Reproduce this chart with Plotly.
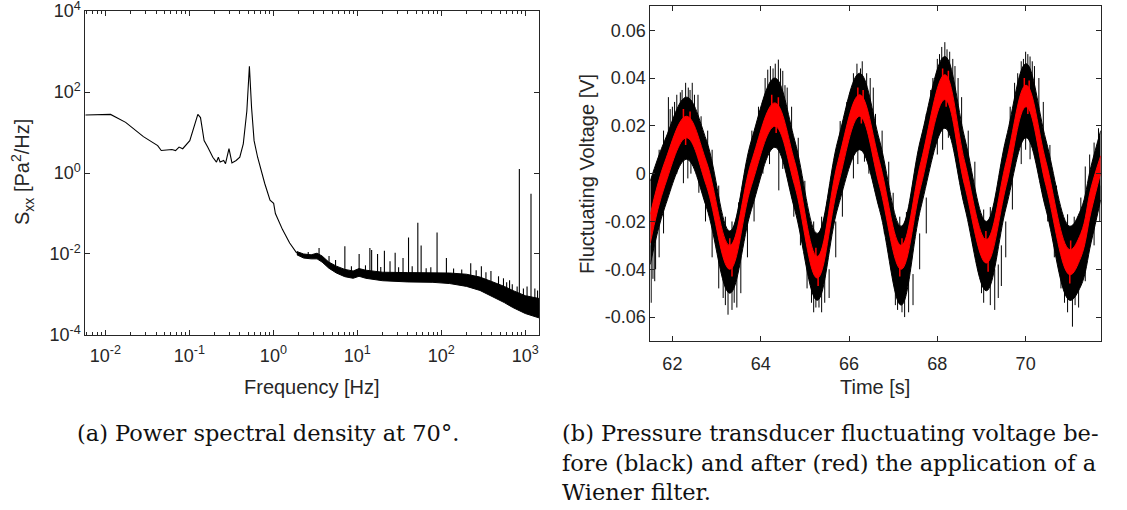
import plotly.graph_objects as go

# ---------------- Data: power spectral density (left) ----------------
psd_line_f = [0.00575, 0.0115, 0.0174, 0.0283, 0.0419, 0.0462, 0.0619, 0.0684, 0.0753, 0.0832,
              0.101, 0.117, 0.126, 0.1355, 0.1496, 0.165, 0.19, 0.21, 0.221, 0.232, 0.256, 0.269,
              0.296, 0.321, 0.36, 0.398, 0.438, 0.483, 0.518, 0.55, 0.589, 0.649, 0.789, 0.912,
              1.007, 1.057, 1.285, 1.563, 1.9]
psd_line_s = [27, 28, 17.8, 7.9, 4.76, 3.59, 3.8, 3.59, 4.37, 3.98,
              6.3, 17.8, 28, 23.4, 6.3, 4.37, 2.45, 1.86, 2.45, 1.86, 2.04, 1.70,
              4.0, 1.78, 2.04, 2.45, 5.25, 34, 434, 40.7, 6.3, 2.45, 0.55, 0.214,
              0.178, 0.10, 0.04, 0.0186, 0.0105]
band_logf = [0.28, 0.36, 0.45, 0.52, 0.58, 0.66, 0.75, 0.85, 0.95, 1.02, 1.1, 1.3, 1.6, 1.9,
             2.1, 2.3, 2.46, 2.6, 2.75, 2.85, 3.0, 3.167]
band_up = [-1.94, -2.0, -2.02, -1.98, -2.05, -2.2, -2.3, -2.38, -2.42, -2.36, -2.4, -2.45, -2.46,
           -2.46, -2.47, -2.5, -2.57, -2.68, -2.8, -2.9, -3.03, -3.1]
band_lo = [-2.02, -2.1, -2.12, -2.12, -2.2, -2.35, -2.47, -2.56, -2.6, -2.55, -2.6, -2.66, -2.69,
           -2.7, -2.73, -2.8, -2.9, -3.04, -3.2, -3.32, -3.47, -3.58]
spk_f = [3.5, 7.1, 10.5, 14.1, 14.8, 17.4, 21.0, 24.5, 28.2, 35.0, 40.7, 52.5, 57.5, 89.0, 115,
         224, 300, 480, 600, 700, 800, 850, 950, 1050, 1170, 1300, 1400,
         2.6, 4.6, 5.5, 8.5, 12.5, 19.0, 31.0, 45.0, 66.0, 75.0, 140, 175, 260, 340, 390, 550, 650]
spk_base = [-2.1, -2.5, -2.5, -2.55, -2.55, -2.6, -2.6, -2.6, -2.6, -2.6, -2.6, -2.6, -2.6, -2.6,
            -2.65, -2.7, -2.8, -3.0, -3.1, -3.2, -3.3, -3.3, -3.4, -3.4, -3.45, -3.5, -3.5,
            -2.1, -2.2, -2.3, -2.5, -2.55, -2.6, -2.6, -2.6, -2.6, -2.6, -2.65, -2.65, -2.7, -2.8, -2.85, -3.0, -3.1]
spk_tip = [-1.85, -1.81, -2.0, -1.85, -1.9, -2.0, -1.92, -2.18, -1.97, -2.1, -1.59, -1.23, -1.79,
           -1.47, -2.1, -2.23, -2.3, -2.55, -2.7, -2.75, -2.8, 0.10, -2.85, -2.8, -0.51, -2.85, -2.9,
           -1.95, -2.05, -2.15, -2.3, -2.28, -2.32, -2.33, -2.3, -2.35, -2.33, -2.36, -2.38, -2.4, -2.45, -2.42, -2.6, -2.65]

# ---------------- Data: fluctuating voltage (right) ----------------
t_key = [61.50, 61.83, 62.32, 62.77, 63.30, 63.79, 64.32, 64.77, 65.28, 65.75, 66.24, 66.69,
         67.18, 67.63, 68.17, 68.62, 69.11, 69.56, 70.01, 70.46, 71.00, 71.25, 71.48, 71.70]
red_hi = [-0.017, 0.005, 0.024, 0.005, -0.030, 0.005, 0.0296, 0.005, -0.0346, 0.005, 0.033, 0.005,
          -0.030, 0.005, 0.0414, 0.005, -0.0276, 0.005, 0.037, 0.005, -0.0318, -0.025, -0.006, 0.0075]
red_lo = [-0.029, -0.005, 0.015, -0.005, -0.040, -0.005, 0.0198, -0.005, -0.0437, -0.005, 0.024, -0.005,
          -0.040, -0.005, 0.031, -0.005, -0.0374, -0.005, 0.028, -0.005, -0.0423, -0.035, -0.016, 0.0003]
blk_hi = [-0.003, 0.014, 0.032, 0.014, -0.024, 0.014, 0.040, 0.014, -0.025, 0.014, 0.042, 0.014,
          -0.022, 0.015, 0.049, 0.015, -0.020, 0.015, 0.046, 0.014, -0.022, -0.015, 0.003, 0.018]
blk_lo = [-0.038, -0.014, 0.006, -0.014, -0.050, -0.015, 0.011, -0.015, -0.053, -0.014, 0.010, -0.015,
          -0.055, -0.014, 0.019, -0.014, -0.049, -0.014, 0.015, -0.015, -0.053, -0.047, -0.029, -0.011]
# raw-signal noise needles: time, base, tip
ndl_t = [61.91, 61.95, 62.05, 62.18, 62.30, 62.40, 62.45, 62.58, 63.00, 64.05, 64.16, 64.28, 64.40,
         64.50, 64.55, 65.00, 66.05, 66.18, 66.26, 66.40, 66.60, 67.90, 68.05, 68.17, 68.28, 68.40,
         68.55, 69.75, 69.90, 70.00, 70.10, 70.20, 71.35, 71.55, 71.65,
         61.52, 61.56, 61.62, 62.35, 62.42, 62.60, 63.15, 63.26, 63.40, 63.46, 64.41, 64.50, 65.15,
         65.25, 65.32, 65.45, 66.20, 66.35, 67.10, 67.26, 67.35, 68.25, 68.50, 69.00, 69.30, 69.45,
         70.00, 70.88, 71.06, 71.12,
         61.70, 61.80, 62.00, 62.10, 62.22, 62.36, 62.50, 62.65, 62.80, 62.90, 63.05, 63.20, 63.35,
         63.50, 63.65, 63.80, 63.95, 64.10, 64.22, 64.33, 64.45, 64.60, 64.70, 64.85, 65.20, 65.38,
         65.50, 65.65, 65.80, 65.95, 66.10, 66.30, 66.48, 66.55, 66.75, 66.90, 67.00, 67.15, 67.30,
         67.45, 67.60, 67.75, 67.85, 68.00, 68.10, 68.22, 68.35, 68.47, 68.70, 68.85, 69.05, 69.20,
         69.35, 69.50, 69.65, 69.82, 69.95, 70.05, 70.15, 70.30, 70.40, 70.55, 70.70, 70.95, 71.10,
         71.25, 71.45,
         61.60, 61.70, 61.80, 62.10, 62.25, 62.50, 62.75, 62.90, 63.05, 63.20, 63.35, 63.55, 63.70,
         63.85, 64.05, 64.20, 64.60, 64.75, 64.90, 65.05, 65.20, 65.38, 65.55, 65.70, 65.85, 66.10,
         66.45, 66.55, 66.80, 66.95, 67.05, 67.20, 67.45, 67.60, 67.75, 68.00, 68.12, 68.40, 68.65,
         68.80, 69.05, 69.20, 69.38, 69.55, 69.70, 69.90, 70.10, 70.25, 70.50, 70.65, 70.80, 70.95,
         71.20, 71.35, 71.55, 71.68]
ndl_base = [0.005, 0.005, 0.010, 0.015, 0.020, 0.020, 0.020, 0.015, -0.020, 0.005, 0.020, 0.025, 0.025,
            0.020, 0.015, -0.020, 0.015, 0.025, 0.025, 0.025, 0.010, 0.015, 0.030, 0.035, 0.030, 0.025,
            0.015, 0.020, 0.030, 0.030, 0.030, 0.025, -0.020, -0.005, 0.000,
            -0.030, -0.030, -0.025, 0.015, 0.015, 0.010, -0.035, -0.040, -0.040, -0.040, 0.020, 0.015,
            -0.040, -0.045, -0.045, -0.040, 0.025, 0.020, -0.040, -0.045, -0.040, 0.030, 0.020, -0.035,
            -0.040, -0.030, 0.025, -0.040, -0.045, -0.040,
            -0.010, 0.000, 0.015, 0.018, 0.020, 0.022, 0.020, 0.012, 0.000, -0.010, -0.020, -0.030, -0.032,
            -0.025, -0.015, 0.000, 0.010, 0.020, 0.028, 0.030, 0.028, 0.020, 0.010, -0.005, -0.035, -0.033,
            -0.025, -0.012, 0.005, 0.012, 0.025, 0.030, 0.025, 0.020, 0.000, -0.012, -0.025, -0.032, -0.030,
            -0.022, -0.005, 0.010, 0.015, 0.030, 0.036, 0.036, 0.032, 0.025, 0.000, -0.015, -0.028, -0.028,
            -0.020, -0.008, 0.010, 0.025, 0.030, 0.033, 0.030, 0.025, 0.015, -0.005, -0.020, -0.032, -0.032,
            -0.022, -0.010,
            -0.030, -0.020, -0.010, 0.012, 0.012, 0.015, -0.005, -0.020, -0.035, -0.042, -0.042, -0.035, -0.020,
            -0.005, 0.010, 0.018, 0.015, -0.005, -0.015, -0.035, -0.045, -0.045, -0.040, -0.020, -0.005, 0.012,
            0.015, 0.012, -0.010, -0.025, -0.042, -0.045, -0.042, -0.025, -0.010, 0.020, 0.025, 0.022, 0.000,
            -0.015, -0.040, -0.042, -0.038, -0.020, 0.000, 0.018, 0.020, 0.020, -0.005, -0.020, -0.035, -0.045,
            -0.042, -0.032, -0.015, -0.005]
ndl_tip = [0.032, 0.027, 0.030, 0.034, 0.038, 0.035, 0.038, 0.033, -0.008, 0.030, 0.0435, 0.044, 0.0477,
           0.043, 0.037, -0.003, 0.035, 0.046, 0.044, 0.042, 0.025, 0.040, 0.050, 0.055, 0.051, 0.045,
           0.032, 0.038, 0.047, 0.051, 0.049, 0.045, 0.003, 0.013, 0.019,
           -0.054, -0.044, -0.040, -0.002, 0.000, -0.008, -0.052, -0.059, -0.054, -0.056, -0.007, 0.002,
           -0.054, -0.056, -0.056, -0.054, 0.004, 0.005, -0.057, -0.060, -0.058, 0.015, 0.005, -0.050,
           -0.057, -0.047, 0.010, -0.054, -0.064, -0.055,
           0.010, 0.018, 0.028, 0.033, 0.035, 0.036, 0.033, 0.024, 0.018, 0.010, -0.005, -0.018, -0.020,
           -0.012, 0.000, 0.018, 0.028, 0.040, 0.045, 0.046, 0.044, 0.036, 0.028, 0.015, -0.020, -0.018,
           -0.012, 0.005, 0.022, 0.030, 0.042, 0.047, 0.040, 0.036, 0.018, 0.005, -0.008, -0.018, -0.016,
           -0.010, 0.010, 0.025, 0.035, 0.048, 0.053, 0.052, 0.048, 0.040, 0.018, 0.005, -0.015, -0.014,
           -0.008, 0.008, 0.028, 0.042, 0.048, 0.050, 0.047, 0.040, 0.030, 0.012, -0.005, -0.017, -0.018,
           -0.010, 0.008,
           -0.045, -0.035, -0.025, 0.000, -0.004, 0.003, -0.020, -0.035, -0.048, -0.055, -0.057, -0.050, -0.035,
           -0.020, 0.000, 0.004, 0.005, -0.018, -0.030, -0.048, -0.058, -0.058, -0.052, -0.035, -0.018, -0.002,
           0.000, -0.002, -0.025, -0.040, -0.055, -0.058, -0.055, -0.040, -0.025, 0.008, 0.010, 0.010, -0.015,
           -0.030, -0.054, -0.055, -0.052, -0.035, -0.015, 0.004, 0.006, 0.008, -0.020, -0.035, -0.048, -0.058,
           -0.056, -0.045, -0.030, -0.020]
# small jitter needles on the filtered (red) signal: time, base, tip
rnd_t = [62.25, 62.40, 64.25, 64.40, 66.20, 66.32, 68.12, 68.25, 69.97, 70.08,
         62.30, 64.35, 66.28, 68.20, 70.05,
         63.30, 65.25, 67.20, 69.10, 71.02,
         63.35, 65.30, 67.15, 69.15, 71.00]
rnd_base = [0.018, 0.018, 0.024, 0.024, 0.028, 0.028, 0.035, 0.035, 0.032, 0.032,
            0.020, 0.025, 0.028, 0.035, 0.032,
            -0.035, -0.040, -0.035, -0.032, -0.036,
            -0.035, -0.040, -0.035, -0.032, -0.036]
rnd_tip = [0.027, 0.026, 0.033, 0.032, 0.036, 0.035, 0.044, 0.043, 0.040, 0.039,
           0.012, 0.017, 0.021, 0.028, 0.025,
           -0.027, -0.031, -0.027, -0.024, -0.028,
           -0.043, -0.047, -0.043, -0.041, -0.046]

# tick labels
psd_xticks = [0.01, 0.1, 1, 10, 100, 1000]
psd_xlabels = ["10<sup>-2</sup>", "10<sup>-1</sup>", "10<sup>0</sup>", "10<sup>1</sup>",
               "10<sup>2</sup>", "10<sup>3</sup>"]
psd_yticks = [1e-4, 1e-2, 1, 1e2, 1e4]
psd_ylabels = ["10<sup>-4</sup>", "10<sup>-2</sup>", "10<sup>0</sup>", "10<sup>2</sup>", "10<sup>4</sup>"]
v_xticks = [62, 64, 66, 68, 70]
v_yticks = [-0.06, -0.04, -0.02, 0, 0.02, 0.04, 0.06]
v_ylabels = ["-0.06", "-0.04", "-0.02", "0", "0.02", "0.04", "0.06"]

# ---------------- Figure ----------------
W, H = 1127, 510
AX = "#262626"
FONT = "Liberation Sans, Arial, sans-serif"
fig = go.Figure()

fig.add_trace(go.Scatter(x=psd_line_f, y=psd_line_s, mode="lines",
                         line=dict(color="black", width=1.1), xaxis="x", yaxis="y"))
band_f = [10 ** v for v in band_logf]
fig.add_trace(go.Scatter(x=band_f, y=[10 ** v for v in band_lo], mode="lines",
                         line=dict(color="black", width=1), xaxis="x", yaxis="y"))
fig.add_trace(go.Scatter(x=band_f, y=[10 ** v for v in band_up], mode="lines", fill="tonexty",
                         fillcolor="black", line=dict(color="black", width=1), xaxis="x", yaxis="y"))
sx, sy = [], []
for f, b, tp in zip(spk_f, spk_base, spk_tip):
    sx += [f, f, None]
    sy += [10 ** b, 10 ** tp, None]
fig.add_trace(go.Scatter(x=sx, y=sy, mode="lines", line=dict(color="black", width=1.1),
                         xaxis="x", yaxis="y"))

SPL = dict(shape="spline", smoothing=1.1)
fig.add_trace(go.Scatter(x=t_key, y=blk_lo, mode="lines", line=dict(color="black", width=1, **SPL),
                         xaxis="x2", yaxis="y2"))
fig.add_trace(go.Scatter(x=t_key, y=blk_hi, mode="lines", fill="tonexty", fillcolor="black",
                         line=dict(color="black", width=1, **SPL), xaxis="x2", yaxis="y2"))
nx, ny = [], []
for t, b, tp in zip(ndl_t, ndl_base, ndl_tip):
    nx += [t, t, None]
    ny += [b, tp, None]
fig.add_trace(go.Scatter(x=nx, y=ny, mode="lines", line=dict(color="black", width=1),
                         xaxis="x2", yaxis="y2"))
fig.add_trace(go.Scatter(x=t_key, y=red_lo, mode="lines", line=dict(color="#ff0000", width=1, **SPL),
                         xaxis="x2", yaxis="y2"))
fig.add_trace(go.Scatter(x=t_key, y=red_hi, mode="lines", fill="tonexty", fillcolor="#ff0000",
                         line=dict(color="#ff0000", width=1, **SPL), xaxis="x2", yaxis="y2"))
rx, ry = [], []
for t, b, tp in zip(rnd_t, rnd_base, rnd_tip):
    rx += [t, t, None]
    ry += [b, tp, None]
fig.add_trace(go.Scatter(x=rx, y=ry, mode="lines", line=dict(color="#ff0000", width=1.5),
                         xaxis="x2", yaxis="y2"))


def px(x):
    return x / W


def py(y):
    return 1 - y / H


axcommon = dict(showline=True, linecolor=AX, linewidth=1, mirror="allticks", ticks="inside",
                tickcolor=AX, ticklen=5, showgrid=False, zeroline=False, automargin=False,
                ticklabeloverflow="allow", tickfont=dict(family=FONT, size=18, color=AX))
minor_vals = [k * 10 ** e for e in range(-3, 4) for k in range(2, 10)]
fig.update_layout(
    template="none",
    width=W, height=H, margin=dict(l=0, r=0, t=0, b=0, pad=0),
    paper_bgcolor="white", plot_bgcolor="white", showlegend=False,
    xaxis=dict(type="log", range=[-2.24, 3.167], domain=[px(85.3), px(539.3)], anchor="y",
               tickmode="array", tickvals=psd_xticks, ticktext=psd_xlabels, ticklabelstandoff=4,
               minor=dict(ticks="inside", ticklen=3, tickcolor=AX, tickmode="array", tickvals=minor_vals),
               **axcommon),
    yaxis=dict(type="log", range=[-4.0005, 4.0005], domain=[py(335), py(11)], anchor="x",
               tickmode="array", tickvals=psd_yticks, ticktext=psd_ylabels, **axcommon),
    xaxis2=dict(range=[61.5, 71.7], domain=[px(650.3), px(1100.7)], anchor="y2",
                tickmode="array", tickvals=v_xticks, ticktext=[str(v) for v in v_xticks],
                ticklabelstandoff=6, **axcommon),
    yaxis2=dict(range=[-0.07, 0.07], domain=[py(341), py(6.3)], anchor="x2",
                tickmode="array", tickvals=v_yticks, ticktext=v_ylabels, **axcommon),
)

ann = []
TF = dict(family=FONT, size=20, color=AX)
ann.append(dict(text="Frequency [Hz]", x=px(312), y=py(387), xref="paper", yref="paper",
                showarrow=False, xanchor="center", yanchor="middle", font=TF))
ann.append(dict(text="Time [s]", x=px(875), y=py(387), xref="paper", yref="paper",
                showarrow=False, xanchor="center", yanchor="middle", font=TF))
ann.append(dict(text="S<sub>xx</sub> [Pa<sup>2</sup>/Hz]", x=px(22), y=py(172), xref="paper", yref="paper",
                showarrow=False, xanchor="center", yanchor="middle", textangle=-90, font=TF))
ann.append(dict(text="Fluctuating Voltage [V]", x=px(587), y=py(174), xref="paper", yref="paper",
                showarrow=False, xanchor="center", yanchor="middle", textangle=-90, font=TF))
CF = dict(family="DejaVu Serif, serif", size=22.5, color="#111111")
captions = [("(a) Power spectral density at 70°.", 75, 433),
            ("(b) Pressure transducer fluctuating voltage be-", 560, 433),
            ("fore (black) and after (red) the application of a", 560, 463),
            ("Wiener filter.", 560, 492)]
for txt, x0, y0 in captions:
    ann.append(dict(text=txt, x=px(x0), y=py(y0), xref="paper", yref="paper", showarrow=False,
                    xanchor="left", yanchor="middle", font=CF))
fig.update_layout(annotations=ann)

fig.write_html("out.html")
